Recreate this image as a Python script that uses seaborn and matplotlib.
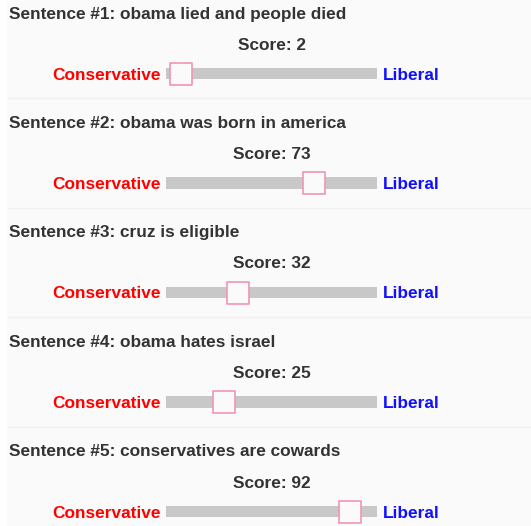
import pandas as pd
import seaborn as sns
import matplotlib.pyplot as plt
from matplotlib.patches import Rectangle

# dane: zdania i wyniki z suwakow
sentences = [
    "obama lied and people died",
    "obama was born in america",
    "cruz is eligible",
    "obama hates israel",
    "conservatives are cowards",
]
scores = [2, 73, 32, 25, 92]
left_label = "Conservative"
right_label = "Liberal"

W, H = 531, 526
ROW0, STEP = 73.5, 109.5          # srodek pierwszego suwaka, odstep wierszy (px)
TRACK_X0, TRACK_X1 = 166, 376.7   # tor suwaka (px)
XMIN, XMAX = -6.2, 106.2          # zakres osi w jednostkach wyniku

sns.set_theme(style="white")
plt.rcParams["font.family"] = ["Liberation Sans", "DejaVu Sans"]

df = pd.DataFrame({"row": range(len(scores)), "score": scores, "sentence": sentences})

fig = plt.figure(figsize=(W / 100, H / 100), dpi=100, facecolor="white")

# tlo + teksty w ukladzie pikseli
bg = fig.add_axes([0, 0, 1, 1])
bg.set_xlim(0, W)
bg.set_ylim(H, 0)
bg.axis("off")
bg.add_patch(Rectangle((7, 0), W - 7, H, facecolor="#fafafa", edgecolor="none"))

for i, s in enumerate(sentences):
    yc = ROW0 + STEP * i
    bg.text(9, yc - 55, f"Sentence #{i + 1}: {s}", fontsize=12.4, fontweight="bold",
            color="#333333", va="baseline", ha="left")
    bg.text(271.5, yc - 24, f"Score: {scores[i]}", fontsize=12.4, fontweight="bold",
            color="#333333", va="baseline", ha="center")
    bg.text(161, yc + 6, left_label, fontsize=12.4, fontweight="bold",
            color="#ff0000", va="baseline", ha="right")
    bg.text(382.5, yc + 6, right_label, fontsize=12.4, fontweight="bold",
            color="#1010ff", va="baseline", ha="left")
    if i < len(sentences) - 1:
        bg.plot([8, W], [yc + 24.5, yc + 24.5], color="#f0f0f0", lw=1)

# suwaki: os x w jednostkach wyniku, os y = numer wiersza
sl = fig.add_axes([TRACK_X0 / W, 0, (TRACK_X1 - TRACK_X0) / W, 1])
sl.barh(df["row"], width=XMAX - XMIN, left=XMIN, height=11.5 / STEP,
        color="#c8c8c8", edgecolor="none")
sns.scatterplot(data=df, x="score", y="row", ax=sl, marker="s", s=262,
                color="#fafafa", edgecolor="#f095b5", linewidth=1.2, zorder=3,
                legend=False)
sl.set_xlim(XMIN, XMAX)
sl.set_ylim((H - ROW0) / STEP, -ROW0 / STEP)
sl.axis("off")

fig.savefig("out.png", dpi=100, facecolor=fig.get_facecolor())
